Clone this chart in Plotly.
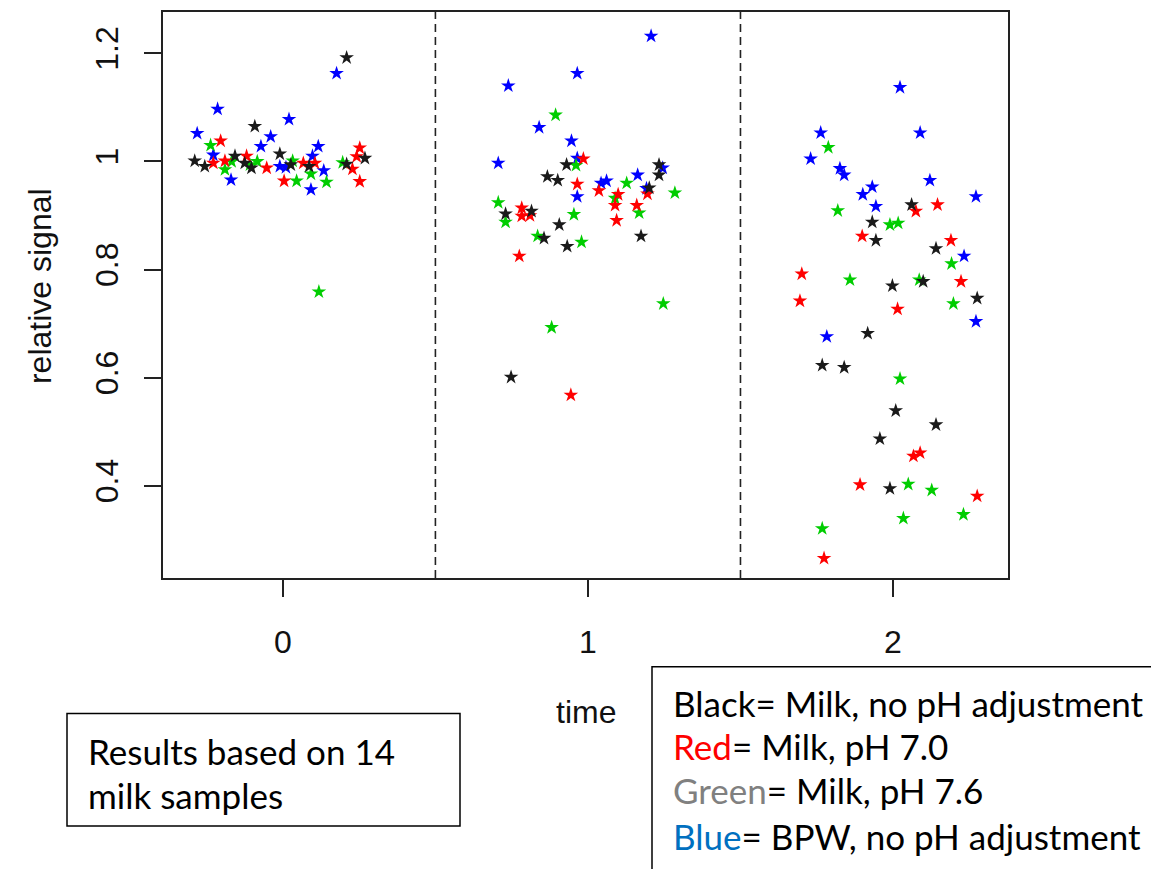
import plotly.graph_objects as go

# ---- data (x = time with horizontal jitter, y = relative signal) ----
black_x = [-0.289, -0.256, -0.157, -0.125, -0.103, -0.092, -0.010, 0.026, 0.086, 0.209, 0.269, 0.209,
           0.930, 0.867, 0.901, 1.233, 1.233, 1.201, 1.174, 0.730, 0.815, 0.906, 0.856, 0.932, 0.748,
           2.061, 1.932, 1.944, 2.141, 2.099, 1.998, 2.276, 1.917, 1.768, 1.840, 2.009, 2.141, 1.957, 1.990]
black_y = [1.001, 0.991, 1.010, 0.997, 0.988, 1.065, 1.014, 0.994, 0.991, 0.995, 1.006, 1.192,
           0.994, 0.972, 0.965, 0.994, 0.975, 0.951, 0.862, 0.903, 0.908, 0.883, 0.858, 0.843, 0.601,
           0.920, 0.888, 0.854, 0.839, 0.778, 0.770, 0.747, 0.682, 0.623, 0.619, 0.539, 0.513, 0.487, 0.395]

red_x = [-0.228, -0.204, -0.190, -0.119, -0.053, 0.004, 0.067, 0.105, 0.228, 0.252, 0.242, 0.252,
         0.985, 0.965, 1.036, 1.195, 1.099, 1.089, 1.160, 1.094, 0.783, 0.783, 0.810, 0.775, 0.944,
         2.075, 2.146, 1.899, 2.190, 1.701, 2.223, 1.695, 2.015, 2.067, 2.089, 1.892, 2.276, 1.774]
red_y = [0.997, 1.038, 1.001, 1.010, 0.988, 0.964, 0.997, 0.997, 0.986, 1.025, 1.009, 0.963,
         1.005, 0.958, 0.946, 0.940, 0.939, 0.919, 0.919, 0.891, 0.914, 0.899, 0.900, 0.825, 0.568,
         0.908, 0.920, 0.862, 0.854, 0.792, 0.778, 0.742, 0.727, 0.455, 0.461, 0.402, 0.381, 0.266]

green_x = [-0.237, -0.190, -0.168, -0.108, -0.084, 0.032, 0.045, 0.092, 0.143, 0.196, 0.118,
           0.894, 0.961, 1.127, 1.285, 1.089, 1.168, 0.706, 0.730, 0.954, 0.835, 0.979, 1.247, 0.881,
           1.788, 1.819, 1.990, 2.017, 2.192, 1.859, 2.086, 2.198, 2.023, 2.050, 2.127, 2.231, 2.034, 1.768]
green_y = [1.030, 0.985, 1.000, 0.994, 1.000, 1.001, 0.964, 0.977, 0.962, 0.998, 0.759,
           1.086, 0.993, 0.960, 0.942, 0.932, 0.905, 0.924, 0.888, 0.902, 0.862, 0.851, 0.737, 0.693,
           1.026, 0.909, 0.883, 0.886, 0.811, 0.781, 0.781, 0.737, 0.598, 0.403, 0.392, 0.347, 0.340, 0.321]

blue_x = [-0.228, -0.281, -0.214, -0.170, -0.072, -0.040, 0.020, -0.010, 0.010, 0.097, 0.116, 0.134, 0.092, 0.176,
          1.207, 0.965, 0.739, 0.840, 0.946, 0.706, 0.965, 0.965, 1.043, 1.061, 1.163, 1.245, 1.192,
          2.023, 1.763, 2.089, 1.730, 1.826, 1.840, 2.121, 1.932, 1.901, 2.272, 1.944, 2.233, 2.272, 1.783]
blue_y = [1.012, 1.052, 1.097, 0.966, 1.028, 1.046, 1.078, 0.991, 0.989, 1.010, 1.028, 0.983, 0.948, 1.163,
          1.232, 1.163, 1.140, 1.063, 1.038, 0.997, 1.006, 0.935, 0.960, 0.964, 0.975, 0.988, 0.950,
          1.137, 1.053, 1.053, 1.005, 0.987, 0.975, 0.965, 0.953, 0.939, 0.935, 0.917, 0.825, 0.704, 0.676]

x_ticks = [0, 1, 2]
y_ticks = [0.4, 0.6, 0.8, 1.0, 1.2]
y_tick_text = ["0.4", "0.6", "0.8", "1", "1.2"]
separators = [0.5, 1.5]

series = [
    ("Blue", blue_x, blue_y, "#0000FF"),
    ("Green", green_x, green_y, "#00CD00"),
    ("Red", red_x, red_y, "#FF0000"),
    ("Black", black_x, black_y, "#1a1a1a"),
]

# page body has an 8px margin: figure is offset by 8px right and down
OFF = 8
PL, PR, PT, PB = 163, 1008, 10, 578  # plot area in window pixels
PW, PH = PR - PL, PB - PT


def px(xp):
    return (xp - PL) / PW


def py(yp):
    return (PB - yp) / PH


fig = go.Figure()
for name, xs, ys, col in series:
    fig.add_trace(go.Scatter(
        x=xs, y=ys, mode="markers", name=name,
        marker=dict(symbol="star", size=11, color=col, line=dict(width=0)),
        showlegend=False,
    ))

for s in separators:
    fig.add_shape(type="line", xref="x", yref="paper", x0=s, x1=s, y0=0, y1=1,
                  line=dict(color="#222222", width=1.6, dash="8px,5px"))

axis_font = dict(family="Liberation Sans, Arial, sans-serif", size=32, color="#111111")
fig.update_xaxes(
    range=[-0.393, 2.377], tickvals=x_ticks, ticktext=[str(t) for t in x_ticks],
    showgrid=False, zeroline=False, showline=True, mirror=True, linecolor="#222222", linewidth=2,
    ticks="outside", ticklen=17, tickwidth=2, tickcolor="#222222",
    tickfont=axis_font, ticklabelstandoff=18,
)
fig.update_yaxes(
    range=[0.2295, 1.2765], tickvals=y_ticks, ticktext=y_tick_text,
    showgrid=False, zeroline=False, showline=True, mirror=True, linecolor="#222222", linewidth=2,
    ticks="outside", ticklen=17, tickwidth=2, tickcolor="#222222",
    tickfont=axis_font, tickangle=-90, ticklabelstandoff=13,
)

# axis titles
fig.add_annotation(text="relative signal", xref="paper", yref="paper", x=px(40), y=py(285),
                   textangle=-90, showarrow=False, font=axis_font, xanchor="center", yanchor="middle")
fig.add_annotation(text="time", xref="paper", yref="paper", x=0.5, y=py(712),
                   showarrow=False, font=axis_font, xanchor="center", yanchor="middle")

# text boxes
box_font = dict(family="Lato, sans-serif", size=35, color="#000000")
fig.add_shape(type="rect", xref="paper", yref="paper",
              x0=px(67), x1=px(460), y0=py(714), y1=py(827),
              line=dict(color="#000000", width=1.5), fillcolor="rgba(0,0,0,0)")
for txt, yy in [("Results based on 14", 752), ("milk samples", 796)]:
    fig.add_annotation(text=txt, xref="paper", yref="paper", x=px(86), y=py(yy),
                       showarrow=False, font=box_font, xanchor="left", yanchor="middle")

fig.add_shape(type="rect", xref="paper", yref="paper",
              x0=px(652), x1=px(1190), y0=py(667), y1=py(900),
              line=dict(color="#000000", width=1.5), fillcolor="rgba(0,0,0,0)")
legend_lines = [
    ("Black", "#000000", "= Milk, no pH adjustment", 703),
    ("Red", "#FF0000", "= Milk, pH 7.0", 747),
    ("Green", "#808080", "= Milk, pH 7.6", 791),
    ("Blue", "#0070C0", "= BPW, no pH adjustment", 837),
]
for word, col, rest, yy in legend_lines:
    fig.add_annotation(text=f'<span style="color:{col}">{word}</span>{rest}', xref="paper", yref="paper",
                       x=px(671), y=py(yy), showarrow=False, font=box_font,
                       xanchor="left", yanchor="middle")

fig.update_layout(
    width=1159 - OFF, height=869 - OFF,
    margin=dict(l=PL - OFF, r=1159 - PR, t=PT - OFF, b=869 - PB),
    paper_bgcolor="white", plot_bgcolor="white",
)

fig.write_html("out.html")
